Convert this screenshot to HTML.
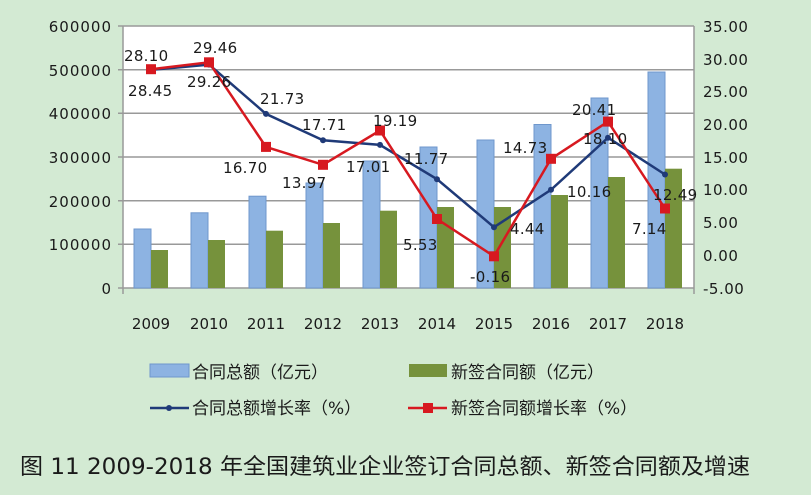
<!DOCTYPE html><html><head><meta charset="utf-8"><style>body{margin:0;background:#d3ead3}svg{display:block}text{font-family:"DejaVu Sans","Noto Sans CJK SC",sans-serif;fill:#1a1a1a}</style></head><body>
<svg width="811" height="495" viewBox="0 0 811 495">
<rect width="811" height="495" fill="#d3ead3"/>
<rect x="123" y="26" width="571" height="262" fill="#fff"/>
<g stroke="#999" stroke-width="1.5">
<line x1="118" y1="26" x2="694" y2="26"/><line x1="118" y1="69.7" x2="694" y2="69.7"/><line x1="118" y1="113.3" x2="694" y2="113.3"/><line x1="118" y1="157" x2="694" y2="157"/><line x1="118" y1="200.7" x2="694" y2="200.7"/><line x1="118" y1="244.3" x2="694" y2="244.3"/><line x1="118" y1="288" x2="694" y2="288"/>
<line x1="123" y1="26" x2="123" y2="294"/><line x1="694" y1="26" x2="694" y2="294"/>
</g>
<g font-size="15" text-anchor="end" letter-spacing="1">
<text x="112" y="32">600000</text><text x="112" y="76">500000</text><text x="112" y="119">400000</text><text x="112" y="163">300000</text><text x="112" y="207">200000</text><text x="112" y="250">100000</text><text x="112" y="294">0</text>
</g>
<g font-size="15" letter-spacing="0.5">
<text x="703" y="32">35.00</text><text x="703" y="65">30.00</text><text x="703" y="97">25.00</text><text x="703" y="130">20.00</text><text x="703" y="163">15.00</text><text x="703" y="195">10.00</text><text x="703" y="228">5.00</text><text x="703" y="261">0.00</text><text x="703" y="294">-5.00</text>
</g>
<g font-size="15" text-anchor="middle">
<text x="151" y="329">2009</text><text x="209" y="329">2010</text><text x="266" y="329">2011</text><text x="323" y="329">2012</text><text x="380" y="329">2013</text><text x="437" y="329">2014</text><text x="494" y="329">2015</text><text x="551" y="329">2016</text><text x="608" y="329">2017</text><text x="665" y="329">2018</text>
</g>
<g fill="#8db3e2" stroke="#6f97cc" stroke-width="1">
<rect x="134" y="229" width="17" height="59"/><rect x="191" y="212.8" width="17" height="75.2"/><rect x="249" y="196.2" width="17" height="91.8"/><rect x="306" y="183" width="17" height="105"/><rect x="363" y="161" width="17" height="127"/><rect x="420" y="147" width="17" height="141"/><rect x="477" y="140" width="17" height="148"/><rect x="534" y="124.5" width="17" height="163.5"/><rect x="591" y="98" width="17" height="190"/><rect x="648" y="72" width="17" height="216"/>
</g>
<g fill="#76923c">
<rect x="151" y="250" width="17" height="38"/><rect x="208" y="240" width="17" height="48"/><rect x="266" y="230.7" width="17" height="57.3"/><rect x="323" y="223" width="17" height="65"/><rect x="380" y="210.7" width="17" height="77.3"/><rect x="437" y="207" width="17" height="81"/><rect x="494" y="207" width="17" height="81"/><rect x="551" y="195" width="17" height="93"/><rect x="608" y="177" width="17" height="111"/><rect x="665" y="168.7" width="17" height="119.3"/>
</g>
<polyline fill="none" stroke="#1f3a78" stroke-width="2.5" points="151,69.9 209,64.6 266,113.9 323,140.3 380,144.9 437,179.2 494,227.2 551,189.8 608,137.7 665,174.5"/>
<g fill="#1f3a78"><circle cx="151" cy="69.9" r="3"/><circle cx="209" cy="64.6" r="3"/><circle cx="266" cy="113.9" r="3"/><circle cx="323" cy="140.3" r="3"/><circle cx="380" cy="144.9" r="3"/><circle cx="437" cy="179.2" r="3"/><circle cx="494" cy="227.2" r="3"/><circle cx="551" cy="189.8" r="3"/><circle cx="608" cy="137.7" r="3"/><circle cx="665" cy="174.5" r="3"/></g>
<polyline fill="none" stroke="#d71920" stroke-width="2.5" points="151,69.2 209,62.3 266,146.9 323,164.8 380,130.5 437,219 494,256.3 551,158.8 608,121.6 665,208.5"/>
<g fill="#d71920"><rect x="146" y="64.2" width="10" height="10"/><rect x="204" y="57.3" width="10" height="10"/><rect x="261" y="141.9" width="10" height="10"/><rect x="318" y="159.8" width="10" height="10"/><rect x="375" y="125.5" width="10" height="10"/><rect x="432" y="214" width="10" height="10"/><rect x="489" y="251.3" width="10" height="10"/><rect x="546" y="153.8" width="10" height="10"/><rect x="603" y="116.6" width="10" height="10"/><rect x="660" y="203.5" width="10" height="10"/></g>
<g font-size="15" letter-spacing="0.3">
<text x="124" y="61">28.10</text><text x="128" y="96">28.45</text><text x="193" y="53">29.46</text><text x="187" y="87">29.26</text><text x="260" y="104">21.73</text><text x="302" y="130">17.71</text><text x="223" y="173">16.70</text><text x="282" y="188">13.97</text><text x="346" y="172">17.01</text><text x="373" y="126">19.19</text><text x="404" y="164">11.77</text><text x="403" y="250">5.53</text><text x="470" y="282">-0.16</text><text x="510" y="234">4.44</text><text x="503" y="153">14.73</text><text x="567" y="197">10.16</text><text x="583" y="144">18.10</text><text x="572" y="115">20.41</text><text x="632" y="234">7.14</text><text x="653" y="200">12.49</text>
</g>
<rect x="150" y="364" width="39" height="13" fill="#8db3e2" stroke="#6f97cc"/>
<text x="192" y="378" font-size="17">合同总额（亿元）</text>
<rect x="409" y="364" width="38" height="13" fill="#76923c"/>
<text x="451" y="378" font-size="17">新签合同额（亿元）</text>
<line x1="150" y1="408" x2="189" y2="408" stroke="#1f3a78" stroke-width="2.5"/><circle cx="169" cy="408" r="3" fill="#1f3a78"/>
<text x="192" y="414" font-size="17">合同总额增长率（%）</text>
<line x1="408" y1="408" x2="447" y2="408" stroke="#d71920" stroke-width="2.5"/><rect x="423" y="403" width="10" height="10" fill="#d71920"/>
<text x="451" y="414" font-size="17">新签合同额增长率（%）</text>
<text x="20" y="474" font-size="22" fill="#222" textLength="730" lengthAdjust="spacingAndGlyphs">图 11 2009-2018 年全国建筑业企业签订合同总额、新签合同额及增速</text>
</svg></body></html>
